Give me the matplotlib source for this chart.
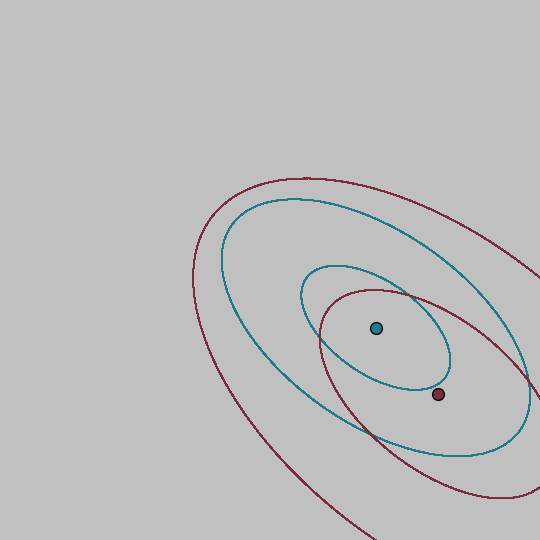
import numpy as np
import matplotlib
matplotlib.use("Agg")
import matplotlib.pyplot as plt
from matplotlib.patches import Ellipse

# Data (arbitrary units, 0..10 both axes)
groups = ["teal", "maroon"]
mean_x = [6.96, 8.11]
mean_y = [3.93, 2.70]
std_x = [1.38, 2.19]
std_y = [1.15, 1.93]
corr = [-0.53, -0.54]
sigma_levels = [1.0, 2.07]
colors = ["#1f7b8b", "#7b2d3e"]

fig = plt.figure(figsize=(5.4, 5.4), dpi=100)
fig.patch.set_facecolor("#c0c0c0")
ax = fig.add_axes([0, 0, 1, 1])
ax.set_facecolor("#c0c0c0")
ax.set_xlim(0, 10)
ax.set_ylim(0, 10)
ax.axis("off")

for mx, my, sx, sy, r, c in zip(mean_x, mean_y, std_x, std_y, corr, colors):
    cov = np.array([[sx**2, r*sx*sy], [r*sx*sy, sy**2]])
    vals, vecs = np.linalg.eigh(cov)
    order = vals.argsort()[::-1]
    vals, vecs = vals[order], vecs[:, order]
    angle = np.degrees(np.arctan2(vecs[1, 0], vecs[0, 0]))
    for k in sigma_levels:
        e = Ellipse((mx, my), 2*k*np.sqrt(vals[0]), 2*k*np.sqrt(vals[1]),
                    angle=angle, fill=False, edgecolor=c, linewidth=0.75,
                    antialiased=False)
        ax.add_patch(e)

for mx, my, c in zip(mean_x, mean_y, colors):
    ax.plot([mx], [my], marker="o", markersize=8.5, color=c,
            markeredgecolor="black", markeredgewidth=1.0, linestyle="none")

fig.savefig("out.png", dpi=100, facecolor=fig.get_facecolor())
